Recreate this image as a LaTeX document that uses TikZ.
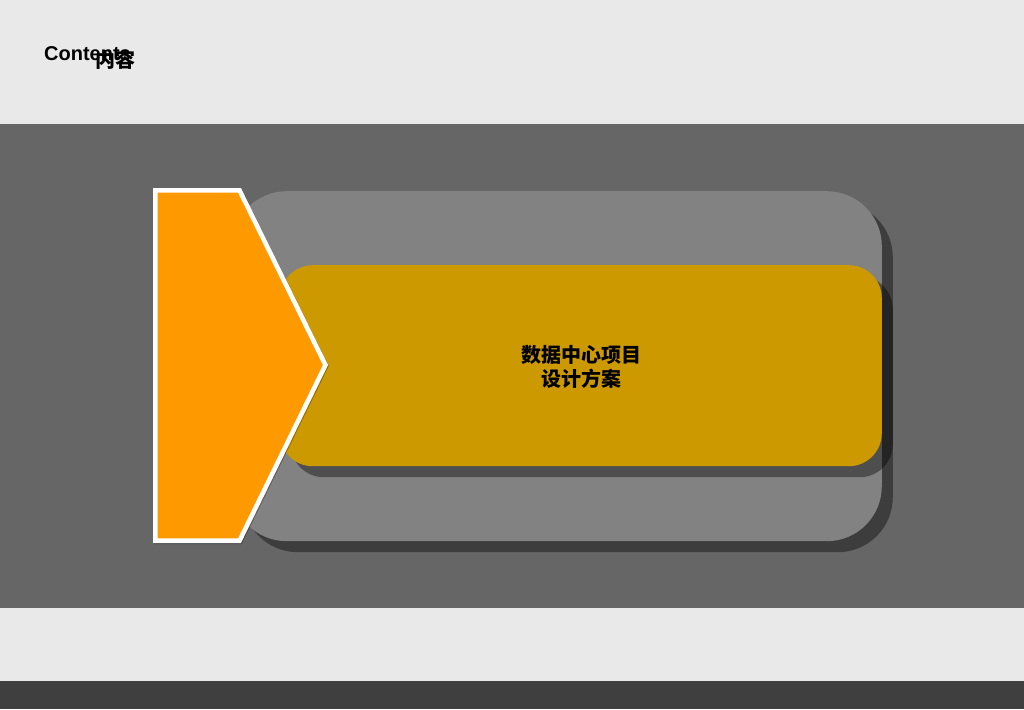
\documentclass[tikz,border=0pt]{standalone}
\usepackage{fontspec}
\setmainfont{Liberation Sans}
\newfontfamily\cjkfont{Noto Sans CJK SC}
\definecolor{paleband}{HTML}{E9E9E9}
\definecolor{midband}{HTML}{666666}
\definecolor{darkband}{HTML}{3F3F3F}
\definecolor{panelgray}{HTML}{828282}
\definecolor{panelgold}{HTML}{CC9900}
\definecolor{arroworange}{HTML}{FF9900}
\tikzset{
	band/.style={inner sep=0pt,minimum width=1024pt,anchor=north west},
	panel/.style={inner sep=0pt,anchor=north east,rounded corners=#1},
	shade/.style={fill=black,fill opacity=0.4},
	title/.style={inner sep=0pt,font=\bfseries\fontsize{20pt}{24pt}\selectfont},
}

\begin{document}
\begin{tikzpicture}[x=1pt,y=-1pt]
		\useasboundingbox (0,0) rectangle (1024,709);
		% bands
		\node[band,fill=paleband,minimum height=124pt] (top) at (0,0) {};
		\node[band,fill=midband,minimum height=484pt] (mid) at (0,124) {};
		\node[band,fill=paleband,minimum height=73pt] (low) at (0,608) {};
		\node[band,fill=darkband,minimum height=28pt] (foot) at (0,681) {};
		%
		% large panel
		\node[panel=55pt,shade,minimum width=650pt,minimum height=350pt] (bigshade) at (893,202) {};
		\node[panel=55pt,fill=panelgray,minimum width=650pt,minimum height=350pt] (big) at (882,191) {};
		%
		% gold panel
		\node[panel=33pt,shade,minimum width=602pt,minimum height=201pt] (goldshade) at (893,276) {};
		\node[panel=33pt,fill=panelgold,minimum width=602pt,minimum height=201pt] (gold) at (882,265) {};
		\node[inner sep=0pt,align=center,font=\cjkfont\bfseries\fontsize{20pt}{24pt}\selectfont] (goldtext) at (581.7,367) {数据中心项目\\设计方案};
		%
		% arrow
		\draw[shift={(0.7,1)},black,opacity=0.3,line width=4.6pt,miter limit=10] (155.3,190.3) -- (239.5,190.3) -- (325.5,365) -- (239.5,540.7) -- (155.3,540.7) -- cycle;
		\draw[white,line width=4.6pt,miter limit=10,fill=arroworange] (155.3,190.3) -- (239.5,190.3) -- (325.5,365) -- (239.5,540.7) -- (155.3,540.7) -- cycle;
		%
		\node[title,anchor=base west] (contents) at (44,60) {Contents};
		\node[title,anchor=center,font=\cjkfont\bfseries\fontsize{20pt}{24pt}\selectfont] (contentscn) at (115,60) {内容};
	\end{tikzpicture}
\end{document}
